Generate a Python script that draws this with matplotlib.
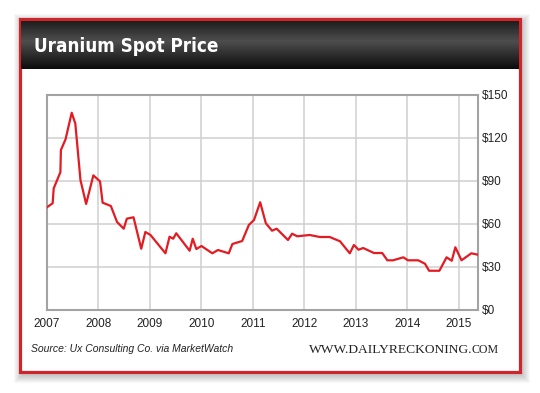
import numpy as np
import matplotlib
matplotlib.use("Agg")
import matplotlib.pyplot as plt
from matplotlib import font_manager
from matplotlib.patches import Rectangle

# uranium spot price, $ per lb
years = [2007.0, 2007.11, 2007.13, 2007.26, 2007.27, 2007.36, 2007.48, 2007.55,
         2007.65, 2007.76, 2007.9, 2008.03, 2008.08, 2008.24, 2008.36, 2008.49,
         2008.55, 2008.68, 2008.83, 2008.91, 2009.01, 2009.30, 2009.38, 2009.45,
         2009.51, 2009.77, 2009.83, 2009.90, 2010.0, 2010.21, 2010.32, 2010.53,
         2010.60, 2010.79, 2010.92, 2011.02, 2011.14, 2011.25, 2011.37, 2011.46,
         2011.68, 2011.76, 2011.86, 2012.10, 2012.30, 2012.49, 2012.69, 2012.88,
         2012.96, 2013.05, 2013.14, 2013.35, 2013.51, 2013.61, 2013.72, 2013.92,
         2014.01, 2014.21, 2014.34, 2014.42, 2014.62, 2014.76, 2014.86, 2014.93,
         2015.05, 2015.24, 2015.37]
price = [71.5, 74.3, 84.7, 96.0, 111.5, 119.0, 137.6, 130.0,
         90.5, 73.8, 93.8, 89.6, 74.7, 72.4, 61.2, 56.5,
         63.5, 64.5, 42.5, 54.2, 52.1, 39.3, 50.9, 49.5,
         53.3, 41.1, 49.5, 42.3, 44.4, 39.3, 41.6, 39.3,
         45.8, 47.9, 59.1, 62.6, 75.0, 60.3, 55.1, 56.5,
         48.6, 53.0, 51.2, 52.1, 50.7, 50.7, 47.7, 39.3,
         45.1, 41.8, 43.0, 39.5, 39.5, 34.4, 34.4, 36.5,
         34.4, 34.4, 32.0, 27.1, 27.1, 36.5, 34.1, 43.5,
         34.4, 39.3, 38.3]

year_ticks = list(range(2007, 2016))
price_ticks = [0, 30, 60, 90, 120, 150]

title = "Uranium Spot Price"
source = "Source: Ux Consulting Co. via MarketWatch"

W, H = 540, 393
fig = plt.figure(figsize=(W / 100, H / 100), dpi=100)
fig.patch.set_facecolor("white")

# look for a condensed bold face for the header, fall back to plain bold
title_font = None
for f in font_manager.fontManager.ttflist:
    fn = f.fname.lower()
    if ("condensed" in fn or "narrow" in fn) and "bold" in fn and "oblique" not in fn \
            and "italic" not in fn:
        title_font = font_manager.FontProperties(fname=f.fname, size=13.5)
        break
if title_font is None:
    title_font = font_manager.FontProperties(family="Liberation Sans", weight="bold", size=12)

# background axes in pixel coords (y down)
bg = fig.add_axes([0, 0, 1, 1])
bg.set_xlim(0, W)
bg.set_ylim(H, 0)
bg.axis("off")

# soft shadow around the card
for i in range(1, 9):
    bg.add_patch(Rectangle((20 + 1.5 - i, 19 + 2.5 - i), 500 + 2 * i, 353 + 2 * i,
                           facecolor="black", alpha=0.028, edgecolor="none", zorder=0))
bg.add_patch(Rectangle((20, 19), 500, 353, facecolor="white", edgecolor="#d0232a",
                       linewidth=2.3, zorder=1))

# dark header band with gradient
grad = np.concatenate([np.linspace(0.12, 0.30, 20), np.linspace(0.30, 0.05, 28)])
bg.imshow(grad[:, None], cmap="gray", vmin=0, vmax=1, aspect="auto",
          extent=(21, 519, 69, 21), zorder=2)
bg.text(34, 47, title, color="white", fontproperties=title_font,
        va="center", ha="left", zorder=3)

bg.text(31, 349, source, fontsize=7.5, style="italic", family="Liberation Sans",
        va="center", ha="left", color="#222222", zorder=3)
bg.text(472, 353, "WWW.DAILYRECKONING.", fontsize=9.7, family="Liberation Serif",
        va="baseline", ha="right", color="#222222", zorder=3)
bg.text(471.5, 353, "COM", fontsize=8.6, family="Liberation Serif",
        va="baseline", ha="left", color="#222222", zorder=3)

# main plot
ax = fig.add_axes([47 / W, 1 - 309.5 / H, (478 - 47) / W, (309.5 - 95) / H])
ax.set_zorder(5)
ax.plot(years, price, color="#e31b23", linewidth=1.6, zorder=3)
ax.set_xlim(2007, 2015.37)
ax.set_ylim(0, 150)
ax.set_xticks(year_ticks)
ax.set_xticklabels([str(y) for y in year_ticks])
ax.set_yticks(price_ticks)
ax.set_yticklabels(["$%d" % p for p in price_ticks])
ax.yaxis.tick_right()
ax.tick_params(length=0, labelsize=8.5, colors="#222222", pad=3)
ax.tick_params(axis="x", pad=6)
for lab in ax.get_xticklabels() + ax.get_yticklabels():
    lab.set_family("Liberation Sans")
ax.grid(True, color="#cfcfcf", linewidth=1.1)
ax.set_axisbelow(True)
for s in ax.spines.values():
    s.set_color("#a3a3a3")
    s.set_linewidth(1.5)

fig.savefig("out.png", dpi=100)
